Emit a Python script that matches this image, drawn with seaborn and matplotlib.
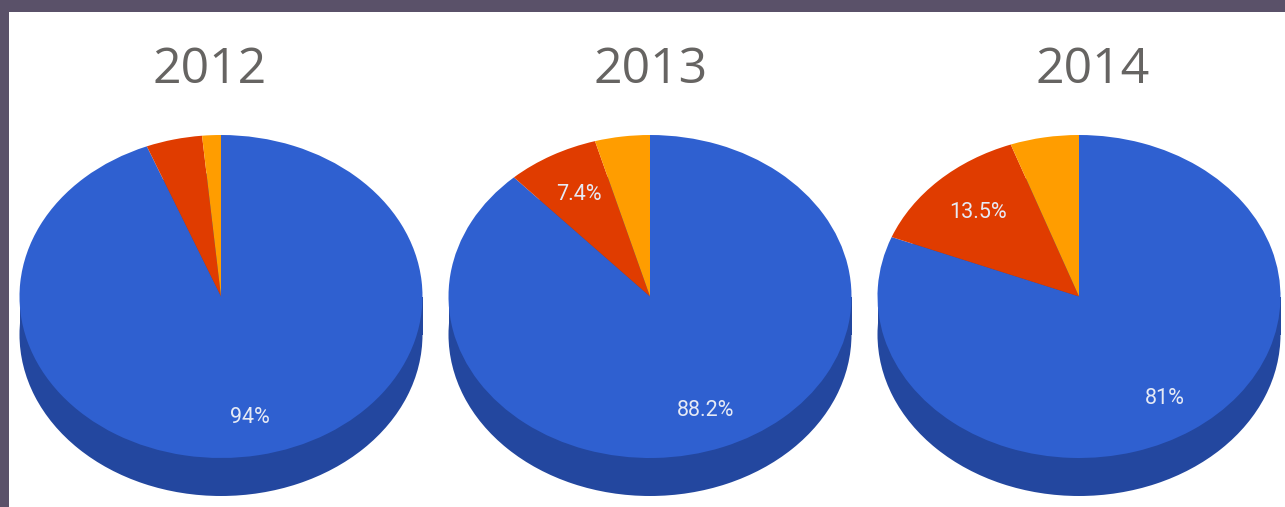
import numpy as np
import matplotlib
matplotlib.use("Agg")
import matplotlib.pyplot as plt
from matplotlib.patches import Rectangle
import seaborn as sns

years = ["2012", "2013", "2014"]
blue_share = [94.0, 88.2, 81.0]
red_share = [4.5, 7.4, 13.5]
orange_share = [1.5, 4.4, 5.5]
labelled = [{94.0}, {88.2, 7.4}, {81.0, 13.5}]

slice_colors = ["#2f60d0", "#e03c00", "#ff9d00"]
side_color = "#23479f"
frame_color = "#5a5169"
title_color = "#666462"

W, H = 1285, 507
sns.set_theme(style="white")
plt.rcParams["font.family"] = ["Open Sans", "DejaVu Sans"]

fig = plt.figure(figsize=(W / 100, H / 100), dpi=100, facecolor=frame_color)
# White panel inside the dark frame, kept behind the pies
fig.add_artist(Rectangle((9 / W, 0), 1 - 9 / W, 1 - 12 / H, transform=fig.transFigure,
                         facecolor="white", edgecolor="none", zorder=-1))

RX, RY, DEPTH, CY = 201.5, 161.5, 38, 296.5
centers = [221, 650, 1079]
title_x = [210, 651, 1093]

for i, year in enumerate(years):
    cx = centers[i]
    # Axes spans the top ellipse plus the rim, in pixel units measured from the pie centre
    left, right = cx - RX - 2, cx + RX + 2
    top, bottom = CY - RY - 2, CY + RY + DEPTH + 2
    ax = fig.add_axes([left / W, 1 - bottom / H, (right - left) / W, (bottom - top) / H])
    ax.patch.set_alpha(0)
    values = [blue_share[i], red_share[i], orange_share[i]]
    shown = sorted(labelled[i])

    def pct_text(p, shown=shown, total=sum(values)):
        v = round(p * total / 100, 1)
        return f"{v:g}%" if v in shown else ""

    # Rim: a darker copy of the disc shifted down, joined by a band
    ax.pie([1], colors=[side_color], radius=1, center=(0, -DEPTH / RY),
           wedgeprops={"linewidth": 0})
    ax.add_patch(Rectangle((-1, -DEPTH / RY), 2, DEPTH / RY, facecolor=side_color,
                           edgecolor="none"))
    # Top face, drawn clockwise from twelve o'clock
    wedges, _, autotexts = ax.pie(values, colors=slice_colors, startangle=90, counterclock=False,
                                  autopct=pct_text, pctdistance=0.76, radius=1,
                                  wedgeprops={"linewidth": 0})
    for t in autotexts:
        t.set_color("#e6eaf5")
        t.set_fontfamily(["Roboto", "DejaVu Sans"])
        t.set_fontsize(15.5)
    # The red slice carries its label a little nearer the centre
    x, y = autotexts[1].get_position()
    autotexts[1].set_position((0.95 * x, 0.95 * y))
    ax.set_aspect("auto")
    ax.set_xlim(-(RX + 2) / RX, (RX + 2) / RX)
    ax.set_ylim(-(RY + DEPTH + 2) / RY, (RY + 2) / RY)
    ax.axis("off")
    fig.text(title_x[i] / W, 1 - 70 / H, year, ha="center", va="center",
             color=title_color, fontsize=36)

fig.savefig("out.png", dpi=100, facecolor=frame_color)
